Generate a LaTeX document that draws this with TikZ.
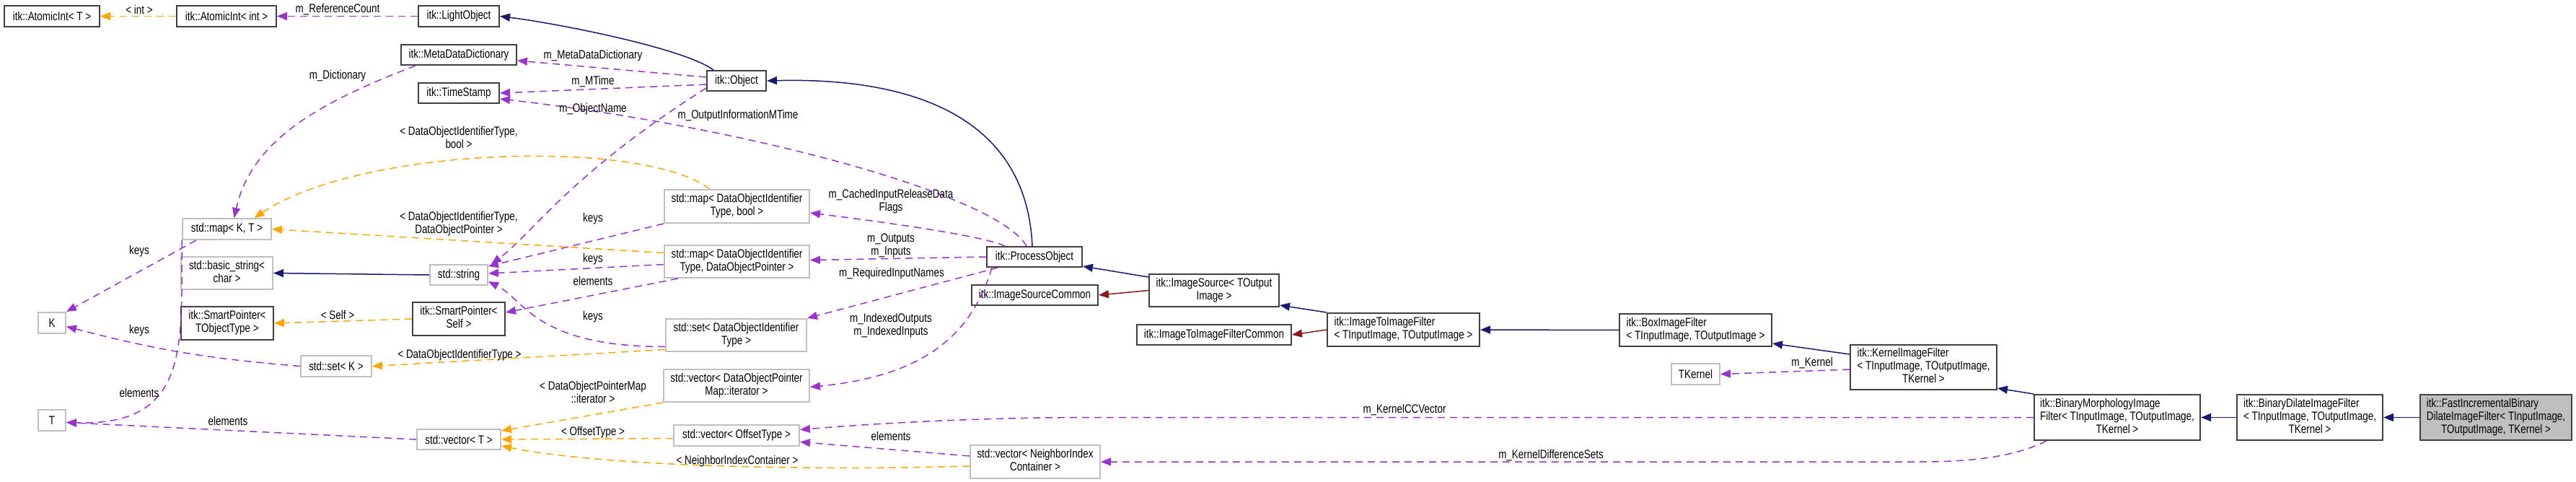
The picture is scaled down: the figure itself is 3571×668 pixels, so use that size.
\documentclass[tikz,border=0pt]{standalone}
\usepackage{fontspec}
\setmainfont{Liberation Sans}[FakeStretch=0.8]
\usetikzlibrary{arrows.meta}
\definecolor{inhblue}{HTML}{191970}
\definecolor{privred}{HTML}{8B1A1A}
\definecolor{usepurple}{HTML}{9A32CD}
\definecolor{tmplorange}{HTML}{FFA500}
\definecolor{extgray}{HTML}{BFBFBF}
\definecolor{clsgray}{HTML}{404040}

% box texts: lines left aligned, last line centred
\newcommand{\twol}[2]{\begin{tabular}{@{}l@{}}#1\\\multicolumn{1}{@{}c@{}}{#2}\end{tabular}}
\newcommand{\threel}[3]{\begin{tabular}{@{}l@{}}#1\\#2\\\multicolumn{1}{@{}c@{}}{#3}\end{tabular}}

\begin{document}
\begin{tikzpicture}[x=0.5pt, y=-0.5pt,
  every node/.style={font=\fontsize{8.4}{9}\selectfont, inner sep=0pt},
  cls/.style={draw=clsgray, line width=1pt, fill=white},
  ext/.style={draw=extgray, line width=1pt, fill=white},
  mainbox/.style={cls, fill=extgray},
  wh/.style 2 args={minimum width=#1pt, minimum height=#2pt},
  lbl/.style={align=center},
  ahead/.style={-{Triangle[length=7pt,width=5.5pt]}},
  inh/.style={ahead, draw=inhblue, line width=0.75pt},
  priv/.style={ahead, draw=privred, line width=0.75pt},
  member/.style={ahead, draw=usepurple, line width=0.75pt, dash pattern=on 5pt off 3.5pt},
  tmpl/.style={ahead, draw=tmplorange, line width=0.75pt, dash pattern=on 5pt off 3.5pt}]

\useasboundingbox (0,0) rectangle (3571,668);

% --- left part: members and templates ---
\node[cls, wh={66}{14.5}] (atomT) at (72,22.5) {itk::AtomicInt< T >};
\node[cls, wh={69}{14.5}] (atomInt) at (314,22.5) {itk::AtomicInt< int >};
\node[cls, wh={56}{14.5}] (lightObj) at (636,22.5) {itk::LightObject};
\node[cls, wh={80}{14}] (metaDict) at (636,76) {itk::MetaDataDictionary};
\node[cls, wh={41}{14}] (object) at (1021,112) {itk::Object};
\node[cls, wh={56}{14}] (timeStamp) at (636,129) {itk::TimeStamp};
\node[ext, wh={61.5}{14.5}] (mapKT) at (314.5,317.5) {std::map< K, T >};
\node[ext, wh={63.5}{22.5}] (basicStr) at (314.5,378.5) {\twol{std::basic\_string<}{char >}};
\node[ext, wh={40}{14}] (stdString) at (636,381) {std::string};
\node[cls, wh={64}{23}] (spTObj) at (315,448) {\twol{itk::SmartPointer<}{TObjectType >}};
\node[cls, wh={64}{23}] (spSelf) at (636,442) {\twol{itk::SmartPointer<}{Self >}};
\node[ext, wh={19}{14.5}] (K) at (72,447.5) {K};
\node[ext, wh={49}{14.5}] (setK) at (466,507.5) {std::set< K >};
\node[ext, wh={19}{14.5}] (T) at (72,582.5) {T};
\node[ext, wh={58}{14}] (vecT) at (636,609) {std::vector< T >};
\node[ext, wh={100.5}{23}] (mapBool) at (1021.5,286) {\twol{std::map< DataObjectIdentifier}{Type, bool >}};
\node[ext, wh={100.5}{22.5}] (mapDOP) at (1021.5,362.5) {\twol{std::map< DataObjectIdentifier}{Type, DataObjectPointer >}};
\node[ext, wh={97.5}{22.5}] (setDOIT) at (1020.5,464.5) {\twol{std::set< DataObjectIdentifier}{Type >}};
\node[ext, wh={101}{22.5}] (vecIter) at (1021,534.5) {\twol{std::vector< DataObjectPointer}{Map::iterator >}};
\node[ext, wh={87}{14.5}] (vecOff) at (1021,603.5) {std::vector< OffsetType >};
\node[ext, wh={90}{23}] (vecNIC) at (1435,640) {\twol{std::vector< NeighborIndex}{Container >}};

% --- right part: class hierarchy ---
\node[cls, wh={66}{14}] (procObj) at (1434,356) {itk::ProcessObject};
\node[cls, wh={87.5}{14}] (imgSrcCommon) at (1434.5,409) {itk::ImageSourceCommon};
\node[cls, wh={90}{22.5}] (imgSrc) at (1683,402.5) {\twol{itk::ImageSource< TOutput}{Image >}};
\node[cls, wh={107}{14}] (i2iCommon) at (1683,464) {itk::ImageToImageFilterCommon};
\node[cls, wh={105.5}{23}] (i2i) at (1945.5,457) {\twol{itk::ImageToImageFilter}{< TInputImage, TOutputImage >}};
\node[cls, wh={105.5}{22.5}] (boxFilt) at (2350.5,457.5) {\twol{itk::BoxImageFilter}{< TInputImage, TOutputImage >}};
\node[ext, wh={33.5}{14.5}] (tkernel) at (2350.5,518.5) {TKernel};
\node[cls, wh={101.5}{31}] (kernFilt) at (2666.5,509) {\threel{itk::KernelImageFilter}{< TInputImage, TOutputImage,}{TKernel >}};
\node[cls, wh={115}{31.5}] (binMorph) at (2935,578.5) {\threel{itk::BinaryMorphologyImage}{Filter< TInputImage, TOutputImage,}{TKernel >}};
\node[cls, wh={101}{31.5}] (binDilate) at (3202,578.5) {\threel{itk::BinaryDilateImageFilter}{< TInputImage, TOutputImage,}{TKernel >}};
\node[mainbox, wh={105}{31.5}] (fastInc) at (3460,578.5) {\threel{itk::FastIncrementalBinary}{DilateImageFilter< TInputImage,}{TOutputImage, TKernel >}};

% --- inheritance ---
\draw[inh] ([xshift=5pt]object.north west) .. controls +(-40,-30) and +(80,10) .. (lightObj.east);
\draw[inh] ([xshift=-1.5pt]procObj.north) .. controls +(-8,-180) and +(200,-5) .. (object.east);
\draw[inh] ([yshift=-2.5pt]imgSrc.north west) -- ([yshift=1pt]procObj.south east);
\draw[priv] (imgSrc.west) -- (imgSrcCommon.east);
\draw[inh] (i2i.north west) -- ([yshift=1.5pt]imgSrc.south east);
\draw[priv] (i2i.west) -- (i2iCommon.east);
\draw[inh] (boxFilt.west) -- (i2i.east);
\draw[inh] ([yshift=-7pt]kernFilt.north west) -- ([yshift=2.5pt]boxFilt.south east);
\draw[inh] (binMorph.north west) -- ([yshift=1.5pt]kernFilt.south east);
\draw[inh] (binDilate.west) -- (binMorph.east);
\draw[inh] (fastInc.west) -- (binDilate.east);
\draw[inh] (stdString.west) -- (basicStr.east);

% --- members ---
\draw[member] (lightObj.west) -- (atomInt.east);
\draw[member] ([yshift=2.5pt]object.west) -- ([yshift=-4pt]metaDict.east);
\draw[member] ([yshift=-2.5pt]object.west) -- (timeStamp.east);
\draw[member] ([yshift=-5pt]object.west) .. controls +(-190,120) and +(55,-40) .. ([xshift=2pt]stdString.north east);
\draw[member] ([xshift=-5.5pt]procObj.north) .. controls +(-40,-70) and +(350,40) .. ([yshift=-4pt]timeStamp.east);
\draw[member] ([xshift=10.5pt]metaDict.south west) .. controls +(-130,50) and +(25,-110) .. ([xshift=5pt]mapKT.north);
\draw[member] ([xshift=10pt]mapKT.south west) -- (K.north east);
\draw[member] (mapKT.south west) .. controls +(0,150) and +(170,5) .. ([yshift=-1.5pt]T.east);
\draw[member] (setK.west) to[bend left=5] ([yshift=-2.5pt]K.east);
\draw[member] (vecT.west) -- ([yshift=-1.5pt]T.east);
\draw[member] (mapBool.south west) -- ([yshift=-1.5pt]stdString.north east);
\draw[member] ([yshift=-2pt]mapDOP.west) -- ([yshift=1pt]stdString.east);
\draw[member] ([xshift=10pt]mapDOP.south west) -- ([yshift=4.5pt]spSelf.east);
\draw[member] ([yshift=-8pt]setDOIT.west) .. controls +(-180,0) and +(50,25) .. ([yshift=3pt]stdString.south east);
\draw[member] ([xshift=-20.5pt]procObj.north) .. controls +(-30,-15) and +(80,10) .. ([yshift=-4.5pt]mapBool.east);
\draw[member] (procObj.west) -- ([yshift=1pt]mapDOP.east);
\draw[member] ([xshift=8pt]procObj.south west) -- (setDOIT.north east);
\draw[member] ([xshift=4pt]procObj.south west) .. controls +(-30,100) and +(150,-15) .. ([yshift=-1pt]vecIter.east);
\draw[member] ([yshift=4pt]vecNIC.west) -- ([yshift=-4.5pt]vecOff.east);
\draw[member] (binMorph.west) -- ++(-1300,0) .. controls +(-150,0) and +(120,-10) .. ([yshift=4pt]vecOff.east);
\draw[member] ([xshift=9pt]binMorph.south west) .. controls +(-50,25) and +(60,0) .. (2660,640) -- (vecNIC.east);
\draw[member] ([yshift=-1.5pt]kernFilt.west) -- (tkernel.east);

% --- template instances ---
\draw[tmpl] (atomInt.west) -- (atomT.east);
\draw[tmpl] ([xshift=-19pt]mapBool.north) .. controls +(-90,-70) and +(150,-100) .. ([xshift=19pt]mapKT.north);
\draw[tmpl] ([yshift=6pt]mapDOP.west) -- (mapKT.east);
\draw[tmpl] (spSelf.west) -- (spTObj.east);
\draw[tmpl] ([yshift=-10pt]setDOIT.west) -- (setK.east);
\draw[tmpl] (vecIter.south west) -- ([yshift=6pt]vecT.east);
\draw[tmpl] ([yshift=-2pt]vecOff.west) -- (vecT.east);
\draw[tmpl] ([yshift=-3pt]vecNIC.west) .. controls +(-200,6) and +(150,30) .. ([yshift=-4.5pt]vecT.east);

% --- edge labels ---
\node[lbl] (lInt) at (193,13) {< int >};
\node[lbl] (lRefCount) at (468,13) {m\_ReferenceCount};
\node[lbl] (lDict) at (468,105) {m\_Dictionary};
\node[lbl] (lMetaDict) at (822,77) {m\_MetaDataDictionary};
\node[lbl] (lMTime) at (822,113) {m\_MTime};
\node[lbl] (lObjName) at (822,151) {m\_ObjectName};
\node[lbl] (lOutInfo) at (1023,160) {m\_OutputInformationMTime};
\node[lbl] (lMapBool) at (636,190) {< DataObjectIdentifierType,\\bool >};
\node[lbl] (lMapDOP) at (636,310) {< DataObjectIdentifierType,\\DataObjectPointer >};
\node[lbl] (lKeysA) at (822,303) {keys};
\node[lbl] (lKeysB) at (822,359) {keys};
\node[lbl] (lElemA) at (822,389) {elements};
\node[lbl] (lKeysC) at (822,439) {keys};
\node[lbl] (lSelf) at (468,436) {< Self >};
\node[lbl] (lKeysK) at (193,348) {keys};
\node[lbl] (lKeysSet) at (193,458) {keys};
\node[lbl] (lElemT) at (193,544) {elements};
\node[lbl] (lElemVec) at (316,583) {elements};
\node[lbl] (lSetK) at (637,492) {< DataObjectIdentifierType >};
\node[lbl] (lIter) at (822,543) {< DataObjectPointerMap\\::iterator >};
\node[lbl] (lOffset) at (822,599) {< OffsetType >};
\node[lbl] (lNIC) at (1022,639) {< NeighborIndexContainer >};
\node[lbl] (lCached) at (1235,279) {m\_CachedInputReleaseData\\Flags};
\node[lbl] (lOutputs) at (1235,340) {m\_Outputs\\m\_Inputs};
\node[lbl] (lReqIn) at (1236,379) {m\_RequiredInputNames};
\node[lbl] (lIndexed) at (1235,451) {m\_IndexedOutputs\\m\_IndexedInputs};
\node[lbl] (lElemB) at (1235,604) {elements};
\node[lbl] (lCCVec) at (1947,568) {m\_KernelCCVector};
\node[lbl] (lDiffSets) at (2150,631) {m\_KernelDifferenceSets};
\node[lbl] (lKernel) at (2512,503) {m\_Kernel};

\end{tikzpicture}
\end{document}
